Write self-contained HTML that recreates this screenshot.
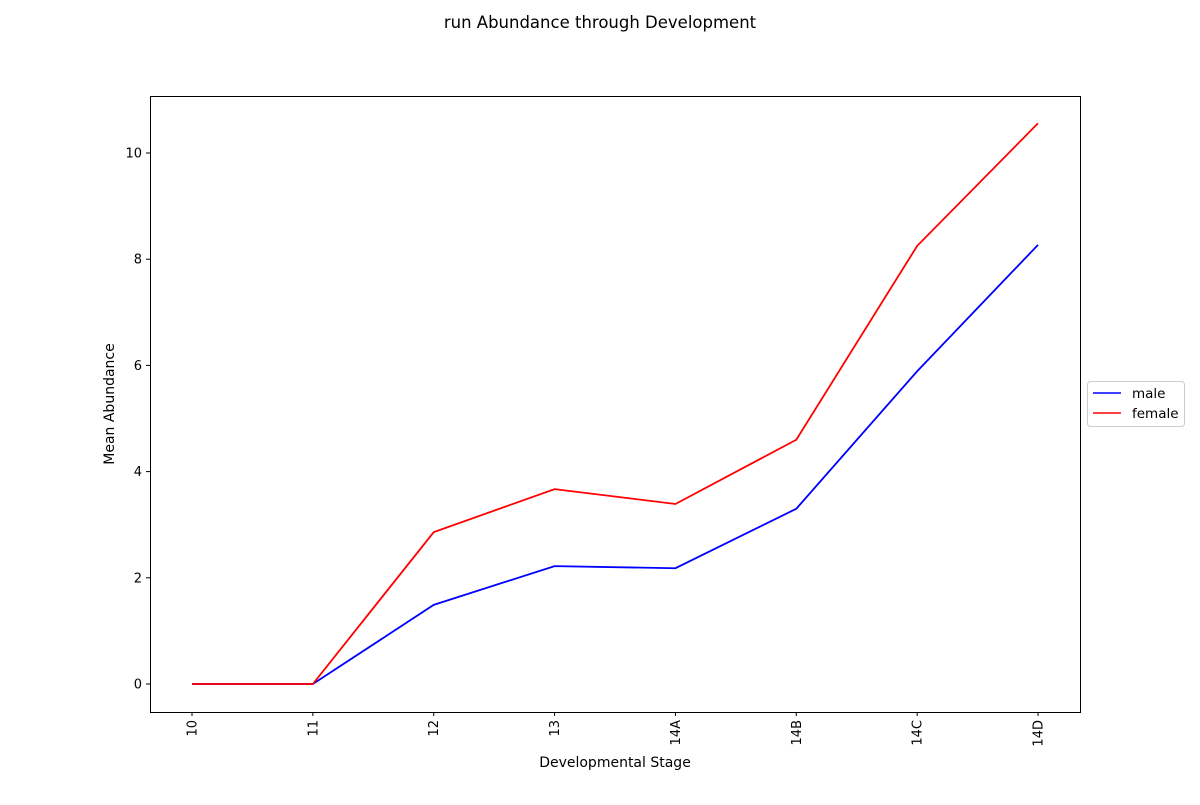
<!DOCTYPE html>
<html><head><meta charset="utf-8"><style>
body{margin:0;background:#fff;font-family:"Liberation Sans","DejaVu Sans",sans-serif;}
svg text{font-family:"DejaVu Sans","Liberation Sans",sans-serif;}
</style></head><body>
<svg id="chart" width="1200" height="800" xmlns="http://www.w3.org/2000/svg">
<text x="600" y="28" text-anchor="middle" font-size="16.5">run Abundance through Development</text>
<g id="plot"></g>
<rect x="150.5" y="96.5" width="930" height="616" fill="none" stroke="#000" stroke-width="1"/>
<text x="615" y="767" text-anchor="middle" font-size="14">Developmental Stage</text>
<text transform="translate(114,404) rotate(-90)" text-anchor="middle" font-size="14">Mean Abundance</text>
<g>
<rect x="1087.5" y="381.5" width="97" height="45" rx="3" fill="#fff" stroke="#ccc"/>
<line x1="1093" y1="393" x2="1121" y2="393" stroke="#0000ff" stroke-width="1.5"/>
<text x="1132" y="398" font-size="13.5">male</text>
<line x1="1093" y1="413" x2="1121" y2="413" stroke="#ff0000" stroke-width="1.5"/>
<text x="1132" y="418" font-size="13.5">female</text>
</g>
</svg>
<script>
const categories=["10","11","12","13","14A","14B","14C","14D"];
const maleValues=[0,0,1.49,2.22,2.18,3.30,5.89,8.27];
const femaleValues=[0,0,2.86,3.67,3.39,4.60,8.25,10.56];
const yTicks=[0,2,4,6,8,10];
const NS="http://www.w3.org/2000/svg";
const g=document.getElementById('plot');
const x=i=>192+i*120.86;
const y=v=>684-v*53.1;
function mk(t,a){const e=document.createElementNS(NS,t);for(const k in a)e.setAttribute(k,a[k]);g.appendChild(e);return e;}
yTicks.forEach(v=>{
  const l=mk('line',{x1:146,x2:150,y1:y(v),y2:y(v),stroke:'#000'});
  
  
  const t=mk('text',{x:142,y:y(v)+4.5,'text-anchor':'end','font-size':13});
  t.textContent=v;
  
  
});
categories.forEach((c,i)=>{
  const l=mk('line',{x1:x(i),x2:x(i),y1:712,y2:716,stroke:'#000'});
  
  
  const t=mk('text',{transform:`translate(${x(i)+4.5},720) rotate(-90)`,'text-anchor':'end','font-size':13});
  t.textContent=c;
  
  
});
function line(vals,color,name){
  const p=mk('polyline',{points:vals.map((v,i)=>x(i)+','+y(v)).join(' '),fill:'none',stroke:color,'stroke-width':1.8});
  
  
}
line(maleValues,'#0000ff','male-line');
line(femaleValues,'#ff0000','female-line');
</script>
</body></html>
